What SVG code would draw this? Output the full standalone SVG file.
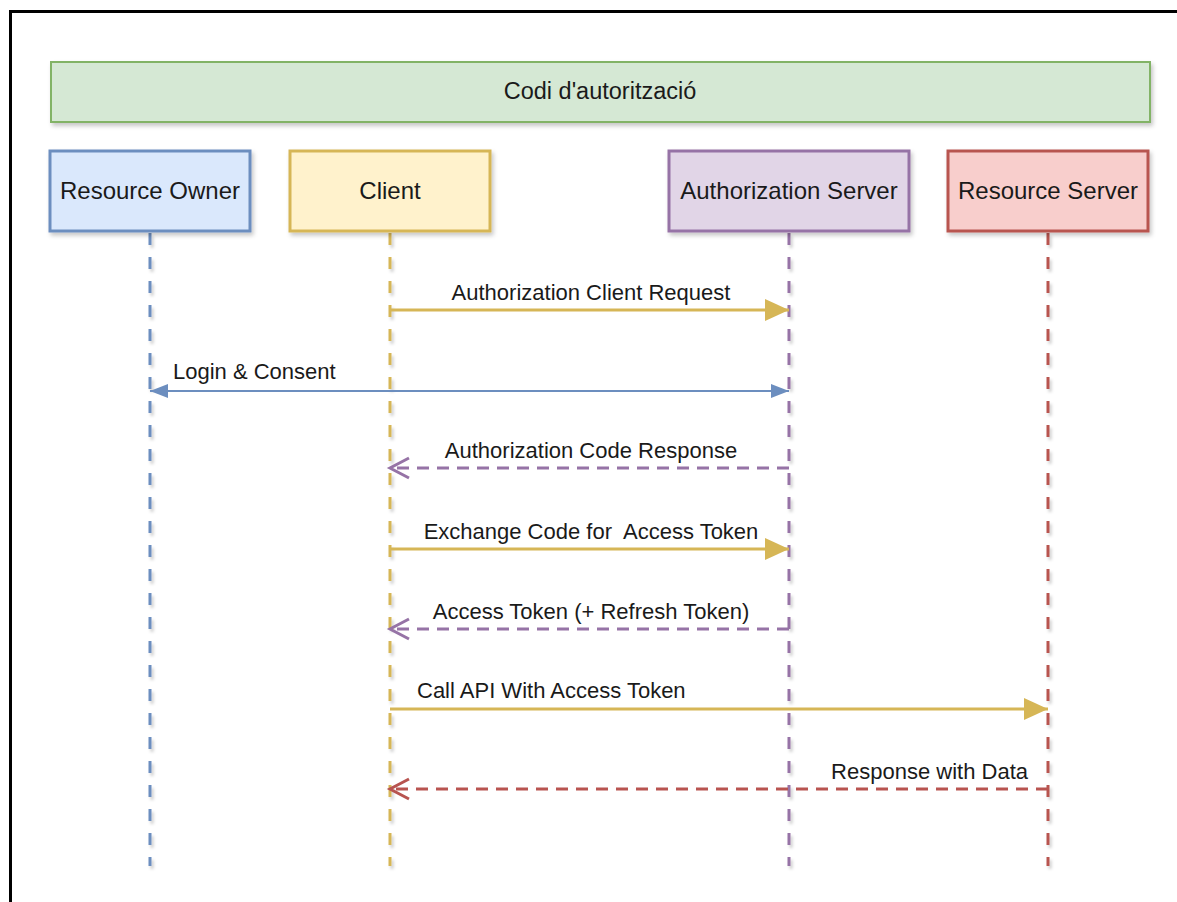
<svg xmlns="http://www.w3.org/2000/svg" width="1177" height="902" viewBox="0 0 1177 902">
  <defs>
    <filter id="shadow" x="-10%" y="-10%" width="130%" height="140%">
      <feDropShadow dx="2" dy="3" stdDeviation="2" flood-color="#000" flood-opacity="0.22"/>
    </filter>
    <!-- lines have a zero-width box, so this one works in user space -->
    <filter id="lineShadow" filterUnits="userSpaceOnUse" x="0" y="0" width="1177" height="902">
      <feDropShadow dx="2" dy="3" stdDeviation="1.5" flood-color="#000" flood-opacity="0.2"/>
    </filter>
    <marker id="fillYellow" markerUnits="userSpaceOnUse" markerWidth="26" markerHeight="24" refX="24" refY="12" orient="auto">
      <path d="M0,1 L24,12 L0,23 Z" fill="#d6b656"/>
    </marker>
    <marker id="fillBlueEnd" markerUnits="userSpaceOnUse" markerWidth="20" markerHeight="18" refX="18" refY="9" orient="auto">
      <path d="M0,2 L18,9 L0,16 Z" fill="#6c8ebf"/>
    </marker>
    <marker id="fillBlueStart" markerUnits="userSpaceOnUse" markerWidth="20" markerHeight="18" refX="2" refY="9" orient="auto">
      <path d="M20,2 L2,9 L20,16 Z" fill="#6c8ebf"/>
    </marker>
    <marker id="openPurple" markerUnits="userSpaceOnUse" markerWidth="26" markerHeight="26" refX="22" refY="13" orient="auto">
      <path d="M3,3 L22,13 L3,23" fill="none" stroke="#9673a6" stroke-width="3"/>
    </marker>
    <marker id="openRed" markerUnits="userSpaceOnUse" markerWidth="26" markerHeight="26" refX="22" refY="13" orient="auto">
      <path d="M3,3 L22,13 L3,23" fill="none" stroke="#b85450" stroke-width="3"/>
    </marker>
  </defs>
  <style>
    text { font-family: "Liberation Sans", Arial, sans-serif; fill: #1a1a1a; }
    .box { stroke-width: 3; filter: url(#shadow); }
    .name { font-size: 24px; text-anchor: middle; }
    .lbl { font-size: 22px; }
    .life { stroke-width: 3; stroke-dasharray: 12 12; fill: none; filter: url(#lineShadow); }
    .msg { fill: none; stroke-width: 3; }
    .dash { stroke-dasharray: 12 8; }
  </style>

  <rect width="1177" height="902" fill="#ffffff"/>
  <!-- outer frame -->
  <path d="M10.5,902 L10.5,11.5 L1177,11.5" fill="none" stroke="#000" stroke-width="3"/>

  <!-- title bar -->
  <g id="title">
    <rect x="51" y="62" width="1099" height="60" fill="#d5e8d4" stroke="#82b366" stroke-width="2" filter="url(#shadow)"/>
    <text x="600" y="99" class="name" style="font-size:23.5px">Codi d'autorització</text>
  </g>

  <!-- lifelines -->
  <g id="lifelines">
    <line class="life" x1="150" y1="233" x2="150" y2="866" stroke="#6c8ebf"/>
    <line class="life" x1="390" y1="233" x2="390" y2="866" stroke="#d6b656"/>
    <line class="life" x1="789" y1="233" x2="789" y2="866" stroke="#9673a6"/>
    <line class="life" x1="1048" y1="233" x2="1048" y2="866" stroke="#b85450"/>
  </g>

  <g id="resource-owner">
    <rect class="box" x="50" y="151" width="200" height="80" fill="#dae8fc" stroke="#6c8ebf"/>
    <text class="name" x="150" y="199">Resource Owner</text>
  </g>
  <g id="client">
    <rect class="box" x="290" y="151" width="200" height="80" fill="#fff2cc" stroke="#d6b656"/>
    <text class="name" x="390" y="199">Client</text>
  </g>
  <g id="authorization-server">
    <rect class="box" x="669" y="151" width="240" height="80" fill="#e1d5e7" stroke="#9673a6"/>
    <text class="name" x="789" y="199">Authorization Server</text>
  </g>
  <g id="resource-server">
    <rect class="box" x="948" y="151" width="200" height="80" fill="#f8cecc" stroke="#b85450"/>
    <text class="name" x="1048" y="199">Resource Server</text>
  </g>

  <!-- messages -->
  <g id="connectors">
    <line class="msg" x1="390" y1="310" x2="789" y2="310" stroke="#d6b656" marker-end="url(#fillYellow)"/>
    <text class="lbl" x="591" y="300" text-anchor="middle">Authorization Client Request</text>

    <line x1="150" y1="391" x2="789" y2="391" stroke="#6c8ebf" stroke-width="2" marker-start="url(#fillBlueStart)" marker-end="url(#fillBlueEnd)"/>
    <text class="lbl" x="173" y="379">Login &amp; Consent</text>

    <line class="msg dash" x1="789" y1="468" x2="390" y2="468" stroke="#9673a6" marker-end="url(#openPurple)"/>
    <text class="lbl" x="591" y="458" text-anchor="middle">Authorization Code Response</text>

    <line class="msg" x1="390" y1="549" x2="789" y2="549" stroke="#d6b656" marker-end="url(#fillYellow)"/>
    <text class="lbl" x="591" y="539" text-anchor="middle" xml:space="preserve">Exchange Code for  Access Token</text>

    <line class="msg dash" x1="789" y1="629" x2="390" y2="629" stroke="#9673a6" marker-end="url(#openPurple)"/>
    <text class="lbl" x="591" y="619" text-anchor="middle">Access Token (+ Refresh Token)</text>

    <line class="msg" x1="390" y1="709" x2="1048" y2="709" stroke="#d6b656" marker-end="url(#fillYellow)"/>
    <text class="lbl" x="417" y="698">Call API With Access Token</text>

    <line class="msg dash" x1="1048" y1="789" x2="390" y2="789" stroke="#b85450" marker-end="url(#openRed)"/>
    <text class="lbl" x="1028" y="779" text-anchor="end">Response with Data</text>
  </g>
</svg>
